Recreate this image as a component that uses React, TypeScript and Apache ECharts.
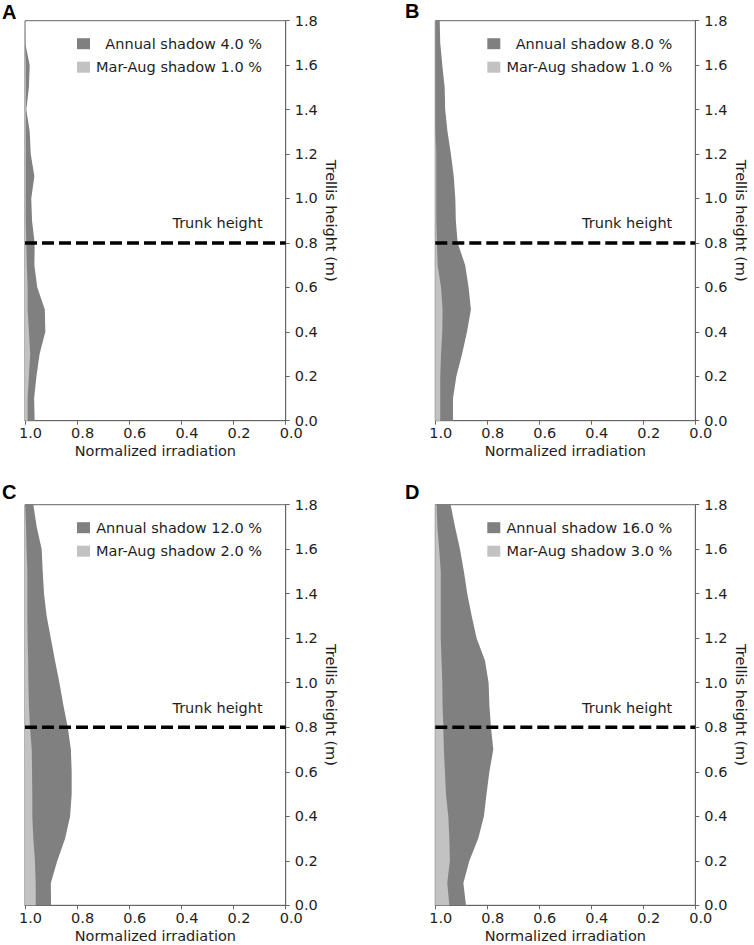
import React, { useEffect, useRef } from "react";
import * as echarts from "echarts";

// Heights (m) at which the irradiation profiles are sampled
const HEIGHTS = [0.0, 0.1, 0.2, 0.3, 0.4, 0.5, 0.6, 0.7, 0.8, 0.9, 1.0, 1.1, 1.2, 1.3, 1.4, 1.5, 1.6, 1.7, 1.8];

// Panel A
const A_ANNUAL = [0.963, 0.965, 0.956, 0.944, 0.922, 0.924, 0.953, 0.964, 0.963, 0.973, 0.976, 0.964, 0.978, 0.982, 0.995, 0.985, 0.982, 0.999, 1.0];
const A_MARAUG = [0.99, 0.99, 0.985, 0.98, 0.985, 0.99, 0.99, 0.993, 0.995, 0.997, 0.997, 0.997, 0.997, 0.997, 0.997, 0.997, 0.997, 1.0, 1.0];
// Panel B
const B_ANNUAL = [0.932, 0.932, 0.919, 0.897, 0.878, 0.863, 0.872, 0.885, 0.914, 0.921, 0.923, 0.929, 0.94, 0.953, 0.962, 0.964, 0.973, 0.981, 0.983];
const B_MARAUG = [0.981, 0.981, 0.981, 0.978, 0.973, 0.972, 0.978, 0.991, 0.994, 0.996, 0.996, 0.996, 0.996, 0.999, 0.999, 0.999, 0.999, 0.999, 0.999];
// Panel C
const C_ANNUAL = [0.9, 0.901, 0.876, 0.846, 0.827, 0.821, 0.821, 0.824, 0.836, 0.853, 0.868, 0.885, 0.901, 0.917, 0.927, 0.932, 0.936, 0.955, 0.968];
const C_MARAUG = [0.959, 0.959, 0.962, 0.968, 0.972, 0.972, 0.973, 0.974, 0.981, 0.985, 0.987, 0.988, 0.99, 0.991, 0.991, 0.991, 0.994, 0.996, 0.999];
// Panel D
const D_ANNUAL = [0.882, 0.892, 0.869, 0.835, 0.813, 0.803, 0.792, 0.777, 0.786, 0.792, 0.795, 0.809, 0.841, 0.86, 0.877, 0.89, 0.905, 0.924, 0.941];
const D_MARAUG = [0.946, 0.954, 0.944, 0.946, 0.95, 0.959, 0.963, 0.967, 0.969, 0.972, 0.973, 0.976, 0.979, 0.979, 0.979, 0.979, 0.985, 0.992, 0.995];

const PANEL_LETTERS = ["A", "B", "C", "D"];
const ANNUAL_NAMES = ["Annual shadow 4.0 %", "Annual shadow 8.0 %", "Annual shadow 12.0 %", "Annual shadow 16.0 %"];
const MARAUG_NAMES = ["Mar-Aug shadow 1.0 %", "Mar-Aug shadow 1.0 %", "Mar-Aug shadow 2.0 %", "Mar-Aug shadow 3.0 %"];
const ANNUAL = [A_ANNUAL, B_ANNUAL, C_ANNUAL, D_ANNUAL];
const MARAUG = [A_MARAUG, B_MARAUG, C_MARAUG, D_MARAUG];

const TRUNK_HEIGHT = 0.8;
const TRUNK_LABEL = "Trunk height";
const X_NAME = "Normalized irradiation";
const Y_NAME = "Trellis height (m)";

// Layout (pixels)
const GRIDS = [
  { left: 25, top: 20.7, width: 260.7, height: 400 },
  { left: 435.3, top: 20.7, width: 260, height: 400 },
  { left: 25, top: 504.7, width: 260.7, height: 400.6 },
  { left: 435.3, top: 504.7, width: 260, height: 400.6 },
];
const LETTER_POS = [
  { x: 2, y: 11.8 },
  { x: 405, y: 11.2 },
  { x: 2, y: 491.5 },
  { x: 405, y: 492 },
];

const FONT = "DejaVu Sans";
const FS = 14.5;
const TEXT_COLOR = "#1e1e1e";
const SPINE_COLOR = "#666666";
const DARK = "#808080";
const LIGHT = "#c2c2c2";

function areaSeries(name: string, values: number[], color: string, idx: number, z: number) {
  return {
    type: "custom",
    name,
    xAxisIndex: idx,
    yAxisIndex: idx,
    z,
    data: values.map((v, i) => [v, HEIGHTS[i]]),
    encode: { x: 0, y: 1 },
    itemStyle: { color },
    renderItem: (params: any, api: any) => {
      if (params.dataIndex !== 0) return null;
      const pts: number[][] = [];
      pts.push(api.coord([1, HEIGHTS[0]]));
      values.forEach((v, i) => pts.push(api.coord([v, HEIGHTS[i]])));
      pts.push(api.coord([1, HEIGHTS[HEIGHTS.length - 1]]));
      return {
        type: "polygon",
        shape: { points: pts },
        style: { fill: color, stroke: null },
      };
    },
  };
}

export default function App() {
  const ref = useRef<HTMLDivElement>(null);

  useEffect(() => {
    if (!ref.current) return;
    const chart = echarts.init(ref.current, undefined, { renderer: "svg" });

    const grid: any[] = [];
    const xAxis: any[] = [];
    const yAxis: any[] = [];
    const series: any[] = [];
    const legend: any[] = [];
    const graphic: any[] = [];

    GRIDS.forEach((g, i) => {
      grid.push({
        left: g.left,
        top: g.top,
        width: g.width,
        height: g.height,
        show: true,
        borderColor: SPINE_COLOR,
        borderWidth: 1,
        backgroundColor: "transparent",
        containLabel: false,
      });
      xAxis.push({
        type: "value",
        gridIndex: i,
        min: 0,
        max: 1,
        interval: 0.2,
        inverse: true,
        position: "bottom",
        name: X_NAME,
        nameLocation: "middle",
        nameGap: 23,
        nameTextStyle: { fontFamily: FONT, fontSize: FS, color: TEXT_COLOR },
        axisLine: { show: true, lineStyle: { color: SPINE_COLOR, width: 1 } },
        axisTick: { show: true, inside: false, length: 4, lineStyle: { color: SPINE_COLOR } },
        axisLabel: {
          fontFamily: FONT,
          fontSize: FS,
          color: TEXT_COLOR,
          margin: 5,
          padding: [0, 0, 0, 11],
          formatter: (v: number) => v.toFixed(1),
        },
        splitLine: { show: false },
      });
      yAxis.push({
        type: "value",
        gridIndex: i,
        min: 0,
        max: 1.8,
        interval: 0.2,
        position: "right",
        name: Y_NAME,
        nameLocation: "middle",
        nameRotate: -90,
        nameGap: 38,
        nameTextStyle: { fontFamily: FONT, fontSize: FS, color: TEXT_COLOR },
        axisLine: { show: true, lineStyle: { color: SPINE_COLOR, width: 1 } },
        axisTick: { show: true, inside: false, length: 4, lineStyle: { color: SPINE_COLOR } },
        axisLabel: {
          fontFamily: FONT,
          fontSize: FS,
          color: TEXT_COLOR,
          margin: 9,
          padding: [0, 0, 4, 0],
          formatter: (v: number) => v.toFixed(1),
        },
        splitLine: { show: false },
      });

      series.push(areaSeries(ANNUAL_NAMES[i], ANNUAL[i], DARK, i, 2));
      series.push(areaSeries(MARAUG_NAMES[i], MARAUG[i], LIGHT, i, 3));
      series.push({
        type: "line",
        name: "trunk-" + i,
        xAxisIndex: i,
        yAxisIndex: i,
        z: 4,
        data: [
          [1, TRUNK_HEIGHT],
          [0, TRUNK_HEIGHT],
        ],
        symbol: "none",
        silent: true,
        lineStyle: { color: "#000000", width: 3.5, type: [12, 5] },
      });

      legend.push({
        orient: "vertical",
        left: g.left + 52,
        top: g.top + 15.5,
        padding: 0,
        itemWidth: 13,
        itemHeight: 11,
        itemGap: 8.5,
        selectedMode: false,
        data: [
          { name: ANNUAL_NAMES[i], icon: "rect", itemStyle: { color: DARK } },
          { name: MARAUG_NAMES[i], icon: "rect", itemStyle: { color: LIGHT } },
        ],
        formatter: (n: string) => `{r|${n}}`,
        textStyle: {
          rich: {
            r: {
              width: 167,
              align: "right",
              fontFamily: FONT,
              fontSize: FS,
              lineHeight: 17,
              color: TEXT_COLOR,
            },
          },
        },
      });

      graphic.push({
        type: "text",
        x: g.left + g.width - 23,
        y: g.top + g.height * ((1.8 - TRUNK_HEIGHT) / 1.8) - 19.5,
        style: {
          text: TRUNK_LABEL,
          fontFamily: FONT,
          fontSize: FS,
          fill: TEXT_COLOR,
          textAlign: "right",
          textVerticalAlign: "middle",
        },
        z: 10,
      });
      graphic.push({
        type: "text",
        x: LETTER_POS[i].x,
        y: LETTER_POS[i].y,
        style: {
          text: PANEL_LETTERS[i],
          fontFamily: "Liberation Sans",
          fontWeight: "bold",
          fontSize: 20,
          fill: "#000000",
          textAlign: "left",
          textVerticalAlign: "middle",
        },
        z: 10,
      });
    });

    chart.setOption({
      animation: false,
      backgroundColor: "#ffffff",
      grid,
      xAxis,
      yAxis,
      series,
      legend,
      graphic,
      tooltip: { show: false },
    });

    return () => chart.dispose();
  }, []);

  return (
    <div
      ref={ref}
      style={{ position: "absolute", left: 0, top: 0, width: 754, height: 945 }}
    />
  );
}
